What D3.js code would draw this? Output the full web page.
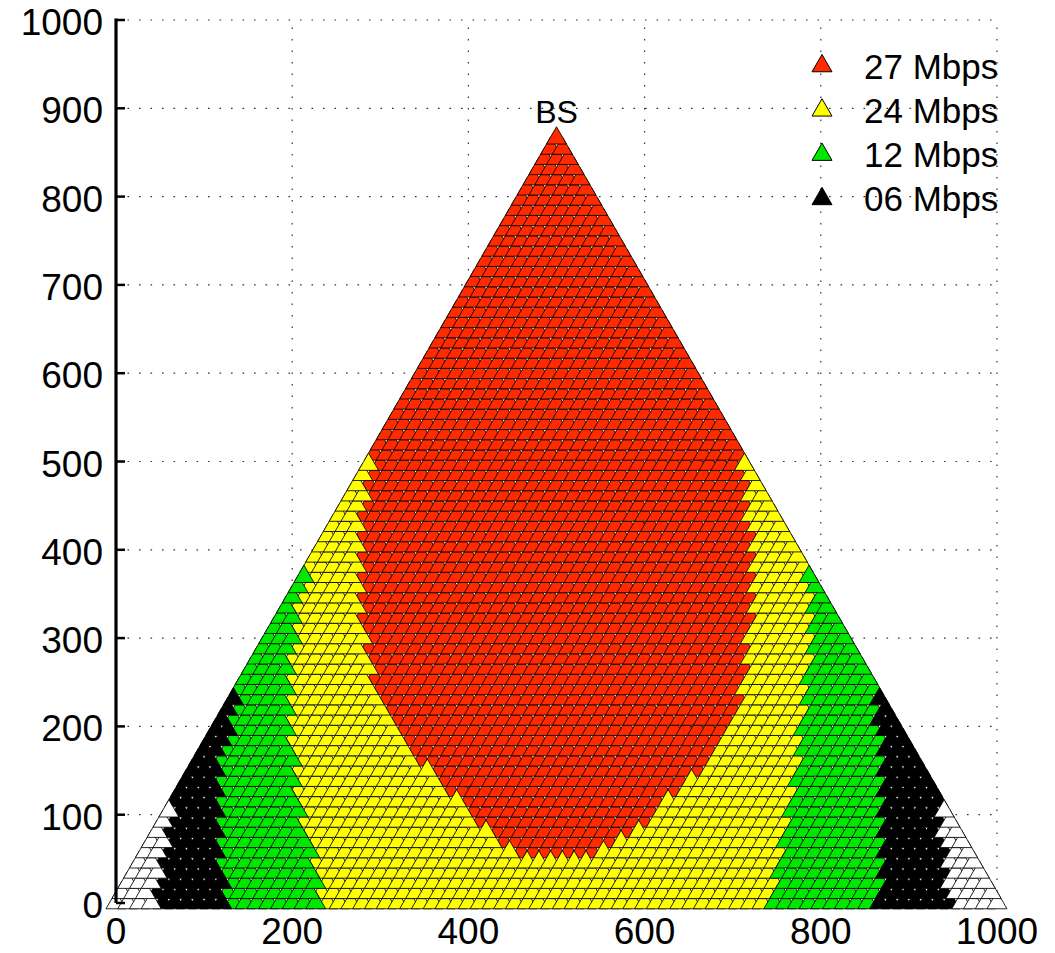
<!DOCTYPE html>
<html>
<head>
<meta charset="utf-8">
<script src="https://cdn.jsdelivr.net/npm/d3@7"></script>
<style>
  body { margin: 0; background: #fff; }
  svg { display: block; }
  text { font-family: "Liberation Sans", Arial, Helvetica, sans-serif; fill: #000; }
</style>
</head>
<body>
<svg id="chart" width="1055" height="953"></svg>
<script>
// ---- data -------------------------------------------------------------
const xTicks = [0, 200, 400, 600, 800, 1000];
const yTicks = [0, 100, 200, 300, 400, 500, 600, 700, 800, 900, 1000];

const rateLabels = ["27 Mbps", "24 Mbps", "12 Mbps", "06 Mbps"];
const rateColors = ["#ff2a00", "#ffff00", "#00e800", "#000000"];
const noServiceColor = "#ffffff";

// cell corners and base station (metres)
const cellCorners = [[0, 0], [1000, 0], [500, 866]];
const bsPosition = [500, 866];
const bsLabel = "BS";

// user positions: triangular lattice, 75 steps per side
const latticeSteps = 75;

// outer boundary of each rate region (x, y in metres)
const zone27 = [[469, 51], [436, 71], [407, 94], [390, 117], [368, 139], [334, 173], [317, 196],
  [300, 230], [283, 287], [274, 343], [275, 400], [279, 456], [288, 502], [-300, 1300],
  [1300, 1300], [712, 502], [716, 456], [724, 400], [724, 343], [718, 287], [707, 230],
  [696, 196], [684, 173], [650, 139], [628, 117], [605, 94], [571, 71], [543, 51]];
const zone24 = [[234, -20], [230, 26], [221, 60], [207, 117], [200, 173], [198, 230], [200, 287],
  [207, 343], [214, 371], [-300, 1300], [1300, 1300], [786, 371], [788, 343], [788, 287],
  [784, 230], [775, 173], [767, 117], [758, 60], [741, -20]];
const zone12 = [[128, -20], [117, 60], [113, 117], [121, 173], [136, 230], [139, 241],
  [-300, 1300], [1300, 1300], [861, 241], [868, 173], [874, 117], [871, 60], [863, -20]];
const zone06 = [[40, -20], [45, 26], [53, 60], [62, 94], [64, 111], [-300, 1300],
  [1300, 1300], [936, 111], [933, 102], [941, 64], [945, 26], [950, -20]];
const zones = [zone27, zone24, zone12, zone06];

// ---- layout -----------------------------------------------------------
const svg = d3.select("#chart");
const x = d3.scaleLinear().domain([0, 1000]).range([116, 997]);
const y = d3.scaleLinear().domain([0, 1000]).range([903, 20]);
const markerSide = 20;
const markerArea = Math.sqrt(3) / 4 * markerSide * markerSide;
const tri = d3.symbol().type(d3.symbolTriangle).size(markerArea);

// grid
const grid = svg.append("g").attr("stroke", "#333").attr("stroke-width", 1.2)
  .attr("stroke-dasharray", "1.6,9.9").attr("fill", "none");
grid.selectAll("line.v").data(xTicks.filter(d => d > 0)).join("line")
  .attr("x1", d => x(d)).attr("x2", d => x(d)).attr("y1", y(0)).attr("y2", y(1000));
grid.selectAll("line.h").data(yTicks.filter(d => d > 0)).join("line")
  .attr("x1", x(0)).attr("x2", x(1000)).attr("y1", d => y(d)).attr("y2", d => y(d));

// user positions (bottom row first) and their rate class
const step = (cellCorners[1][0] - cellCorners[0][0]) / latticeSteps;
const users = [];
for (let j = 0; j <= latticeSteps; j++) {
  for (let i = 0; i <= latticeSteps - j; i++) {
    const px = i * step + j * step / 2;
    const py = j * step * Math.sqrt(3) / 2;
    const cls = zones.findIndex(z => d3.polygonContains(z, [px, py]));
    users.push({ x: px, y: py, cls: cls < 0 ? 4 : cls });
  }
}
const classColor = c => c < 4 ? rateColors[c] : noServiceColor;

const marks = svg.append("g");
[0, 1, 2, 3, 4].forEach(c => {
  marks.append("g").selectAll("path")
    .data(users.filter(u => u.cls === c)).join("path")
    .attr("d", tri)
    .attr("transform", d => `translate(${x(d.x)},${y(d.y)})`)
    .attr("fill", classColor(c))
    .attr("stroke", "#000").attr("stroke-width", 0.85);
});

// y axis
const yAxis = svg.append("g");
yAxis.append("line").attr("x1", x(0)).attr("x2", x(0)).attr("y1", y(0)).attr("y2", y(1000) - 1.5)
  .attr("stroke", "#000").attr("stroke-width", 3.2);
yAxis.selectAll("line.t").data(yTicks).join("line")
  .attr("x1", x(0)).attr("x2", x(0) + 9).attr("y1", d => y(d)).attr("y2", d => y(d))
  .attr("stroke", "#000").attr("stroke-width", 2.5);
yAxis.selectAll("text").data(yTicks).join("text")
  .attr("x", 103).attr("y", d => y(d) + 15).attr("text-anchor", "end")
  .attr("font-size", 37).text(d => d);

// x axis labels
svg.append("g").selectAll("text").data(xTicks).join("text")
  .attr("x", d => x(d)).attr("y", 944).attr("text-anchor", "middle")
  .attr("font-size", 37).text(d => d);

// base station label
svg.append("text").attr("x", x(bsPosition[0])).attr("y", 123)
  .attr("text-anchor", "middle").attr("font-size", 32).text(bsLabel);

// legend
const legend = svg.append("g");
const legendRows = legend.selectAll("g").data(rateLabels).join("g")
  .attr("transform", (d, i) => `translate(0,${66 + i * 44.3})`);
legendRows.append("path").attr("d", tri).attr("transform", "translate(822,0)")
  .attr("fill", (d, i) => rateColors[i]).attr("stroke", "#000").attr("stroke-width", 1);
legendRows.append("text").attr("x", 864).attr("y", 12.5).attr("font-size", 35).text(d => d);
</script>
</body>
</html>
